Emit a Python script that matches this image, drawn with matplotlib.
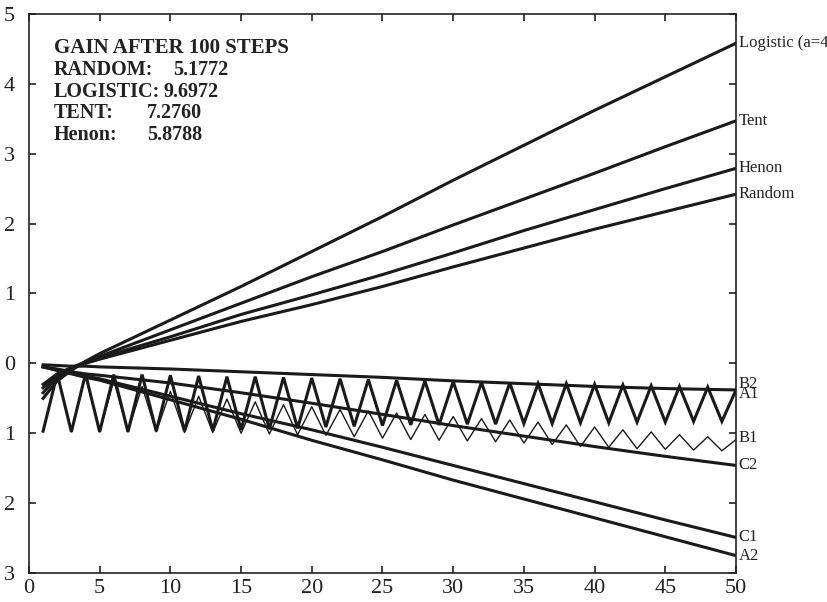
import matplotlib
matplotlib.use('Agg')
import matplotlib.pyplot as plt
import numpy as np

plt.rcParams['font.family'] = ['Liberation Serif', 'DejaVu Serif']

# smooth curves, read at a few steps
steps = [1, 2, 3, 4, 5, 10, 15, 20, 25, 30, 35, 40, 45, 50]
logistic = [-0.50, -0.25, -0.10, 0.03, 0.14, 0.62, 1.10, 1.60, 2.10, 2.62, 3.12, 3.62, 4.10, 4.58]
tent = [-0.42, -0.20, -0.08, 0.02, 0.10, 0.48, 0.86, 1.24, 1.60, 1.98, 2.35, 2.72, 3.10, 3.47]
henon = [-0.35, -0.17, -0.06, 0.02, 0.08, 0.38, 0.70, 0.98, 1.27, 1.58, 1.90, 2.20, 2.50, 2.79]
random_ = [-0.30, -0.15, -0.06, 0.00, 0.06, 0.33, 0.60, 0.84, 1.10, 1.38, 1.65, 1.92, 2.17, 2.42]
b2 = [-0.02, -0.03, -0.04, -0.04, -0.05, -0.08, -0.12, -0.16, -0.20, -0.25, -0.29, -0.33, -0.36, -0.38]
c2 = [-0.05, -0.08, -0.12, -0.15, -0.17, -0.28, -0.42, -0.57, -0.73, -0.89, -1.04, -1.19, -1.33, -1.46]
c1 = [-0.05, -0.10, -0.14, -0.18, -0.22, -0.47, -0.72, -0.95, -1.20, -1.46, -1.72, -1.98, -2.24, -2.49]
a2 = [-0.05, -0.10, -0.15, -0.20, -0.24, -0.52, -0.80, -1.10, -1.38, -1.67, -1.94, -2.21, -2.48, -2.75]

# zigzag curves, every step 1..50
zz_steps = list(range(1, 51))
a1 = [-0.97, -0.15, -0.98, -0.15, -0.98, -0.16, -0.98, -0.16, -0.97, -0.17,
      -0.97, -0.18, -0.96, -0.19, -0.95, -0.19, -0.94, -0.20, -0.93, -0.21,
      -0.91, -0.22, -0.90, -0.23, -0.89, -0.24, -0.88, -0.25, -0.88, -0.26,
      -0.87, -0.27, -0.87, -0.28, -0.86, -0.29, -0.86, -0.29, -0.85, -0.30,
      -0.85, -0.31, -0.84, -0.32, -0.84, -0.33, -0.83, -0.34, -0.83, -0.38]
b1 = [-0.97, -0.14, -0.98, -0.18, -0.98, -0.25, -0.98, -0.33, -0.98, -0.40,
      -0.99, -0.47, -0.99, -0.51, -1.00, -0.55, -1.01, -0.59, -1.02, -0.62,
      -1.03, -0.66, -1.05, -0.68, -1.07, -0.71, -1.09, -0.73, -1.10, -0.76,
      -1.11, -0.79, -1.12, -0.81, -1.14, -0.84, -1.16, -0.88, -1.19, -0.91,
      -1.20, -0.95, -1.22, -0.98, -1.23, -1.02, -1.24, -1.05, -1.25, -1.09]

ytick_vals = [-3, -2, -1, 0, 1, 2, 3, 4, 5]
ytick_labels = ['3', '2', '1', '0', '1', '2', '3', '4', '5']
xtick_vals = [0, 5, 10, 15, 20, 25, 30, 35, 40, 45, 50]

gain_names = ['RANDOM:', 'LOGISTIC:', 'TENT:', 'Henon:']
gain_values = ['5.1772', '9.6972', '7.2760', '5.8788']

fig = plt.figure(figsize=(8.27, 6.02), dpi=100)
ax = fig.add_axes([0.035, 0.048, 0.855, 0.929])

thick = dict(color='#1a1a1a', lw=2.2, solid_joinstyle='miter')
smooth = [(logistic, 'Logistic (a=4)', 0), (tent, 'Tent', 0), (henon, 'Henon', 0),
          (random_, 'Random', 0), (b2, 'B2', 4), (c2, 'C2', 0), (c1, 'C1', 0), (a2, 'A2', 0)]
for ys, name, off in smooth:
    ax.plot(steps, ys, **thick)
    ax.annotate(name, (steps[-1], ys[-1]), xytext=(2, off), textcoords='offset points',
                va='center', ha='left', fontsize=12, color='#222222', annotation_clip=False)

ax.plot(zz_steps, a1, **thick)
ax.annotate('A1', (zz_steps[-1], a1[-1]), xytext=(2, -3), textcoords='offset points',
            va='center', ha='left', fontsize=12, color='#222222', annotation_clip=False)
ax.plot(zz_steps, b1, color='#1a1a1a', lw=1.0)
ax.annotate('B1', (zz_steps[-1], b1[-1]), xytext=(2, 1), textcoords='offset points',
            va='center', ha='left', fontsize=12, color='#222222', annotation_clip=False)

ax.set_xlim(0, 50)
ax.set_ylim(-3, 5)
ax.set_xticks(xtick_vals)
ax.set_yticks(ytick_vals)
ax.set_yticklabels(ytick_labels)
ax.tick_params(direction='in', top=True, right=True, length=5, width=1.2,
               labelsize=16, colors='#222222')
ax.tick_params(axis='y', pad=10)
ax.tick_params(axis='x', pad=4)
for s in ax.spines.values():
    s.set_linewidth(1.2)
    s.set_color('#222222')

ax.text(0.035, 0.930, 'GAIN AFTER 100 STEPS', transform=ax.transAxes,
        fontsize=15, fontweight='bold', color='#222222', va='baseline')
name_y = [0.891, 0.852, 0.814, 0.775]
value_x = [0.204, 0.190, 0.167, 0.167]
for nm, val, yy, xx in zip(gain_names, gain_values, name_y, value_x):
    ax.text(0.035, yy, nm, transform=ax.transAxes, fontsize=14.5, fontweight='bold',
            color='#222222', va='baseline')
    ax.text(xx, yy, val, transform=ax.transAxes, fontsize=14.5, fontweight='bold',
            color='#222222', va='baseline')

fig.savefig('out.png', dpi=100)
